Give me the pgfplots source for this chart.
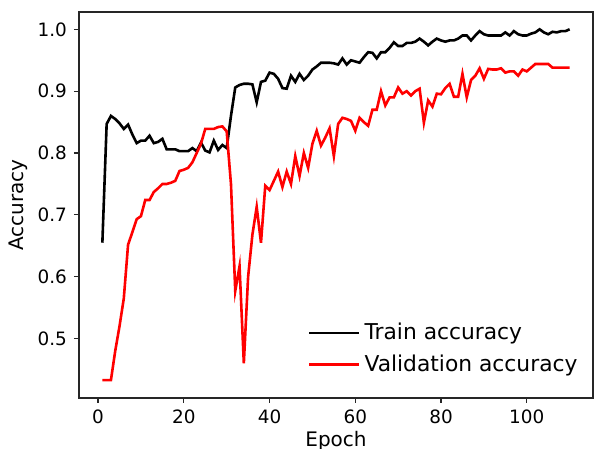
\documentclass[border=0pt]{standalone}
\usepackage{fontspec}
\setmainfont{DejaVu Sans}
\usepackage{pgfplots}
\pgfplotsset{compat=1.18}
\usepackage{pgfplotstable}

\pgfplotstableread{
epoch train
1 0.655
2 0.847
3 0.860
4 0.855
5 0.848
6 0.839
7 0.846
8 0.830
9 0.816
10 0.820
11 0.820
12 0.828
13 0.816
14 0.818
15 0.823
16 0.806
17 0.806
18 0.806
19 0.803
20 0.803
21 0.803
22 0.808
23 0.803
24 0.817
25 0.804
26 0.801
27 0.820
28 0.805
29 0.813
30 0.808
31 0.860
32 0.906
33 0.910
34 0.912
35 0.912
36 0.911
37 0.882
38 0.915
39 0.917
40 0.930
41 0.928
42 0.920
43 0.905
44 0.904
45 0.925
46 0.915
47 0.928
48 0.918
49 0.925
50 0.935
51 0.940
52 0.946
53 0.946
54 0.946
55 0.945
56 0.943
57 0.953
58 0.943
59 0.950
60 0.948
61 0.946
62 0.955
63 0.963
64 0.962
65 0.953
66 0.963
67 0.963
68 0.970
69 0.979
70 0.973
71 0.973
72 0.978
73 0.978
74 0.980
75 0.985
76 0.980
77 0.974
78 0.980
79 0.985
80 0.982
81 0.980
82 0.982
83 0.982
84 0.985
85 0.990
86 0.990
87 0.982
88 0.990
89 0.997
90 0.992
91 0.990
92 0.990
93 0.990
94 0.990
95 0.995
96 0.990
97 0.997
98 0.992
99 0.990
100 0.990
101 0.993
102 0.995
103 1.000
104 0.995
105 0.992
106 0.996
107 0.995
108 0.997
109 0.997
110 1.000
}\traindata

\pgfplotstableread{
epoch val
1 0.433
2 0.433
3 0.433
4 0.480
5 0.520
6 0.565
7 0.652
8 0.672
9 0.693
10 0.698
11 0.724
12 0.724
13 0.737
14 0.743
15 0.750
16 0.750
17 0.752
18 0.755
19 0.771
20 0.773
21 0.776
22 0.785
23 0.800
24 0.815
25 0.839
26 0.839
27 0.839
28 0.842
29 0.843
30 0.835
31 0.750
32 0.577
33 0.617
34 0.460
35 0.600
36 0.668
37 0.713
38 0.655
39 0.747
40 0.740
41 0.755
42 0.770
43 0.745
44 0.770
45 0.750
46 0.795
47 0.763
48 0.800
49 0.776
50 0.815
51 0.836
52 0.812
53 0.825
54 0.840
55 0.795
56 0.847
57 0.857
58 0.855
59 0.852
60 0.836
61 0.857
62 0.850
63 0.844
64 0.870
65 0.870
66 0.900
67 0.877
68 0.890
69 0.890
70 0.906
71 0.896
72 0.900
73 0.893
74 0.900
75 0.904
76 0.849
77 0.885
78 0.875
79 0.896
80 0.895
81 0.905
82 0.912
83 0.891
84 0.891
85 0.928
86 0.890
87 0.918
88 0.925
89 0.937
90 0.920
91 0.936
92 0.935
93 0.935
94 0.937
95 0.930
96 0.932
97 0.932
98 0.925
99 0.935
100 0.932
101 0.938
102 0.944
103 0.944
104 0.944
105 0.944
106 0.938
107 0.938
108 0.938
109 0.938
110 0.938
}\valdata

\begin{document}
\begin{tikzpicture}
\begin{axis}[
  scale only axis,
  width=257pt,
  height=193pt,
  xmin=-4.45, xmax=115.45,
  ymin=0.404, ymax=1.028,
  xtick={0,20,40,60,80,100},
  ytick={0.5,0.6,0.7,0.8,0.9,1.0},
  yticklabel style={/pgf/number format/.cd,fixed,fixed zerofill,precision=1},
  /pgf/number format/assume math mode=true,
  tick align=outside,
  tick pos=left,
  major tick length=2.5pt,
  axis line style={line width=0.6pt, black!85},
  tick style={line width=0.6pt, black!85},
  ticklabel style={font=\fontsize{9.2}{11}\selectfont},
  label style={font=\fontsize{10}{12}\selectfont},
  xlabel={Epoch},
  ylabel={Accuracy},
  xlabel style={yshift=3pt},
  ylabel style={yshift=-2pt},
  legend style={at={(0.99,0.04)}, anchor=south east, draw=none, fill=none,
    font=\fontsize{10.9}{13}\selectfont, row sep=2pt},
  legend cell align=left,
  legend image code/.code={\draw[#1] (0pt,0pt) -- (20pt,0pt); \path (0pt,0pt) -- (25pt,0pt);},
]
\addplot[black, line width=1.3pt] table[x=epoch, y=train] {\traindata};
\addlegendentry{Train accuracy}
\addplot[red, line width=1.3pt] table[x=epoch, y=val] {\valdata};
\addlegendentry{Validation accuracy}
\end{axis}
\pgfresetboundingbox
\path (current axis.south west) ++(-39.5pt,-25.5pt) rectangle ([xshift=0.5pt,yshift=6pt]current axis.north east);
\end{tikzpicture}
\end{document}
